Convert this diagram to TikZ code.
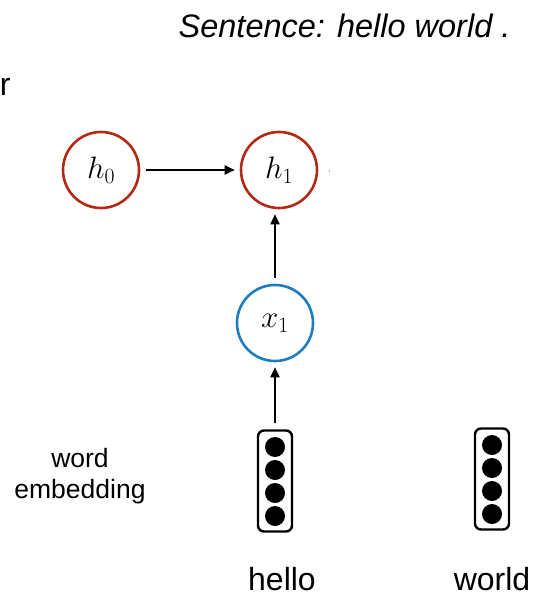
\RequirePackage{fix-cm}
\documentclass[tikz,border=0pt]{standalone}
\usepackage{fontspec}
\setmainfont{Liberation Sans}
\usetikzlibrary{arrows.meta}
\definecolor{hidred}{RGB}{178,42,22}
\definecolor{inblue}{RGB}{30,125,190}
\begin{document}
\begin{tikzpicture}[x=1pt,y=-1pt,
  hidden/.style={circle,draw=hidred,line width=2.6pt,minimum size=76pt,inner sep=0pt,font=\fontsize{31}{34}\selectfont},
  input/.style={circle,draw=inblue,line width=2.6pt,minimum size=76pt,inner sep=0pt,font=\fontsize{31}{34}\selectfont},
  vecbox/.style={draw,line width=2.4pt,rounded corners=6pt,minimum width=34pt,minimum height=101pt,inner sep=0pt},
  dot/.style={circle,fill=black,minimum size=20pt,inner sep=0pt},
  link/.style={line width=1.8pt,shorten <=6pt,shorten >=5pt,-{Triangle[length=10pt,width=9pt]}},
  lbl/.style={font=\fontsize{32}{36}\selectfont}]
\useasboundingbox (0,0) rectangle (535,596);

% heading
\node[lbl,anchor=base east,font=\fontsize{32.5}{36}\selectfont\itshape] (title) at (514,38) {Sentence: hello world .};
\node[lbl,anchor=base east] (rtail) at (14,96) {r};

% recurrent states
\node[hidden] (h0) at (101,170) {$h_0$};
\node[hidden] (h1) at (279,170) {$h_1$};
\node[input]  (x1) at (275,323) {$x_1$};

% word vectors
\node[vecbox] (v1) at (275,481) {};
\foreach \y [count=\i] in {447,470,493,516}
  \node[dot] (a\i) at (275,\y) {};
\node[vecbox] (v2) at (492,479) {};
\foreach \y [count=\i] in {445,468,491,514}
  \node[dot] (b\i) at (492,\y) {};

% connectors
\draw[link] (h0) -- (h1);
\draw[link] (x1.north) -- (x1.north |- h1.south);
\draw[link] (v1.north) -- (x1.south);
\coordinate (stub) at (329,170);
\draw[gray!60,line width=1pt] (stub) -- ++(0,2);

% labels
\node[lbl,anchor=base] (hello) at (282,590) {hello};
\node[lbl,anchor=base] (world) at (492,590) {world};
\node[align=center,font=\fontsize{26.5}{31}\selectfont] (emb) at (80,476) {word\\embedding};
\end{tikzpicture}
\end{document}
